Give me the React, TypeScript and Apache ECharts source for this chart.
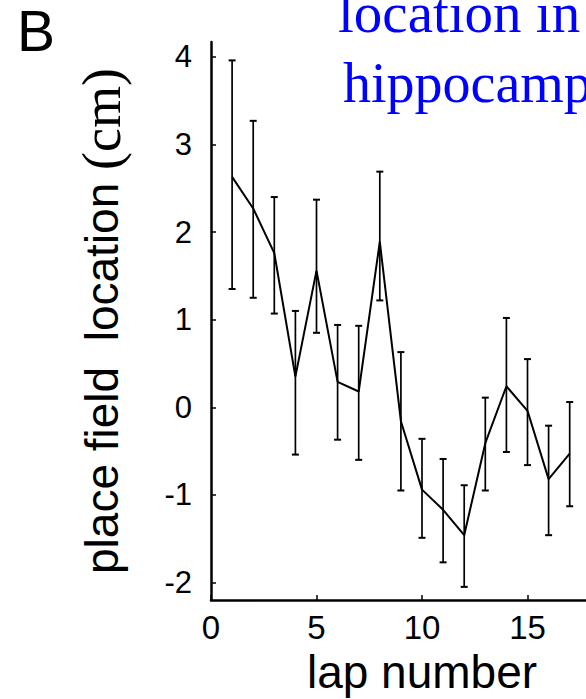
import React, { useEffect, useRef } from "react";
import * as echarts from "echarts";

// Lap-by-lap place field location (mean with error bar range)
const laps = [1, 2, 3, 4, 5, 6, 7, 8, 9, 10, 11, 12, 13, 14, 15, 16, 17];
const means = [2.63, 2.27, 1.76, 0.35, 1.56, 0.29, 0.18, 1.89, -0.16, -0.94, -1.17, -1.46, -0.41, 0.24, -0.04, -0.82, -0.53];
const upper = [3.96, 3.27, 2.4, 1.1, 2.37, 0.94, 0.93, 2.69, 0.63, -0.36, -0.59, -0.89, 0.11, 1.02, 0.55, -0.21, 0.06];
const lower = [1.35, 1.25, 1.07, -0.54, 0.85, -0.37, -0.6, 1.22, -0.95, -1.49, -1.77, -2.05, -0.95, -0.51, -0.66, -1.46, -1.13];
const yTicks = [-2, -1, 0, 1, 2, 3, 4];
const xLabels = [0, 5, 10, 15];

const SANS = "'Liberation Sans', Arial, Helvetica, sans-serif";
const SERIF = "'Liberation Serif', 'Times New Roman', serif";

export default function App() {
  const ref = useRef<HTMLDivElement>(null);

  useEffect(() => {
    document.body.style.margin = "0";
    if (!ref.current) return;
    const chart = echarts.init(ref.current, null, { renderer: "svg" });

    const meanData = laps.map((l, i) => [l, means[i]]);
    const barData = laps.map((l, i) => [l, lower[i], upper[i]]);

    chart.setOption({
      animation: false,
      backgroundColor: "#ffffff",
      grid: {
        left: 211,
        top: 42,
        width: 422,
        height: 558,
        containLabel: false,
        outerBoundsMode: "none",
      },
      xAxis: {
        type: "value",
        min: 0,
        max: 20,
        interval: 5,
        name: "lap number",
        nameLocation: "middle",
        nameGap: 46,
        nameTextStyle: { fontFamily: SANS, fontSize: 46, color: "#000" },
        axisLine: { show: true, onZero: false, lineStyle: { color: "#000", width: 2.5 } },
        axisTick: { show: true, inside: true, length: 5, lineStyle: { color: "#000", width: 1.5 } },
        axisLabel: { fontFamily: SANS, fontSize: 33, color: "#000", margin: 11, customValues: xLabels },
        splitLine: { show: false },
      },
      yAxis: {
        type: "value",
        min: -2.2,
        max: 4.17,
        name: "{a|place field  location }{b|(cm)}",
        nameLocation: "middle",
        nameRotate: 90,
        nameGap: 82,
        nameTextStyle: {
          color: "#000",
          rich: {
            a: { fontFamily: SANS, fontSize: 46, color: "#000" },
            b: { fontFamily: SERIF, fontSize: 54, color: "#000" },
          },
        },
        axisLine: { show: true, onZero: false, lineStyle: { color: "#000", width: 2.5 } },
        axisTick: {
          show: true,
          inside: true,
          length: 5,
          customValues: yTicks,
          lineStyle: { color: "#000", width: 1.5 },
        },
        axisLabel: {
          fontFamily: SANS,
          fontSize: 31,
          color: "#000",
          margin: 19,
          customValues: yTicks,
        },
        splitLine: { show: false },
      },
      graphic: [
        {
          type: "text",
          left: 17,
          top: 2,
          style: { text: "B", fontFamily: SANS, fontSize: 57, fill: "#000" },
        },
        {
          type: "text",
          x: 338,
          y: 12,
          style: {
            text: "location in",
            fontFamily: SERIF,
            fontSize: 57,
            fill: "#0000ff",
            textVerticalAlign: "middle",
          },
        },
        {
          type: "text",
          x: 343,
          y: 83,
          style: {
            text: "hippocampus",
            fontFamily: SERIF,
            fontSize: 56,
            fill: "#0000ff",
            textVerticalAlign: "middle",
          },
        },
      ],
      series: [
        {
          type: "custom",
          name: "error",
          data: barData,
          encode: { x: 0, y: [1, 2] },
          renderItem: (params: any, api: any) => {
            const x = api.value(0);
            const lo = api.coord([x, api.value(1)]);
            const hi = api.coord([x, api.value(2)]);
            const cap = 3.5;
            const style = { stroke: "#000", lineWidth: 1.7 };
            return {
              type: "group",
              children: [
                { type: "line", shape: { x1: lo[0], y1: lo[1], x2: hi[0], y2: hi[1] }, style },
                { type: "line", shape: { x1: hi[0] - cap, y1: hi[1], x2: hi[0] + cap, y2: hi[1] }, style: { ...style, lineWidth: 2 } },
                { type: "line", shape: { x1: lo[0] - cap, y1: lo[1], x2: lo[0] + cap, y2: lo[1] }, style: { ...style, lineWidth: 2 } },
              ],
            };
          },
          z: 2,
        },
        {
          type: "line",
          name: "mean",
          data: meanData,
          symbol: "none",
          lineStyle: { color: "#000", width: 2 },
          z: 3,
        },
      ],
    });

    return () => chart.dispose();
  }, []);

  return <div ref={ref} style={{ width: 586, height: 699 }} />;
}
